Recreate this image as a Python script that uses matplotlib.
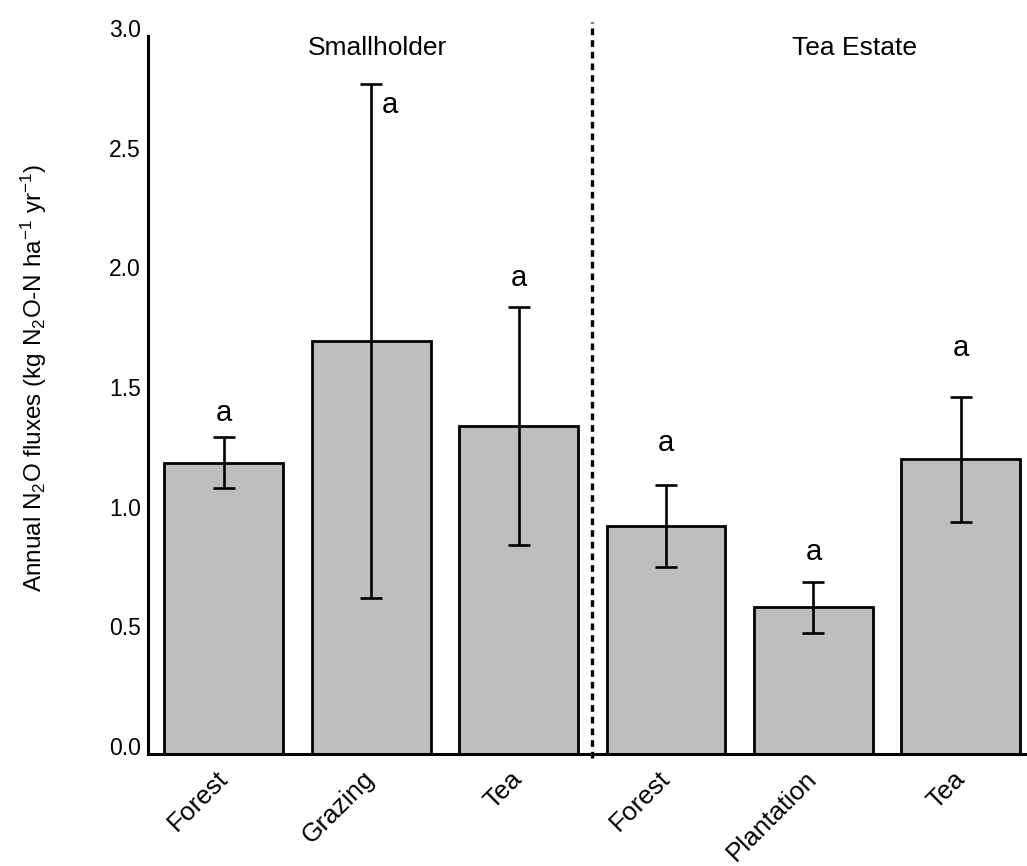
import matplotlib
matplotlib.use("Agg")
import matplotlib.pyplot as plt
from matplotlib.transforms import ScaledTranslation

plt.rcParams['font.family'] = ['Liberation Sans', 'DejaVu Sans']
plt.rcParams['mathtext.fontset'] = 'custom'
plt.rcParams['mathtext.rm'] = 'Liberation Sans'
plt.rcParams['mathtext.it'] = 'Liberation Sans'

categories = ["Forest", "Grazing", "Tea", "Forest", "Plantation", "Tea"]
means = [1.217, 1.725, 1.371, 0.952, 0.613, 1.232]
errors = [0.107, 1.075, 0.498, 0.172, 0.107, 0.261]
letters = ["a", "a", "a", "a", "a", "a"]
letter_y = [1.425, 2.71, 1.99, 1.30, 0.845, 1.695]
letter_dx = [0.0, 0.13, 0.0, 0.0, 0.0, 0.0]
groups = ["Smallholder", "Tea Estate"]
group_x = [1.04, 4.28]
yticks = [0.0, 0.5, 1.0, 1.5, 2.0, 2.5, 3.0]

fig = plt.figure(figsize=(10.27, 8.66), dpi=100)
ax = fig.add_axes([148/1027, (866-754)/866, 1 - 148/1027, (754-36)/866])

x = list(range(len(categories)))
ax.bar(x, means, width=0.807, color="#bebebe", edgecolor="black", linewidth=2.0, zorder=2)
ax.errorbar(x, means, yerr=errors, fmt="none", ecolor="black", elinewidth=1.9,
            capsize=8, capthick=1.9, zorder=3)

for xi, dx, ly, lt in zip(x, letter_dx, letter_y, letters):
    ax.text(xi + dx, ly, lt, ha="center", va="center", fontsize=21)

for gx, g in zip(group_x, groups):
    ax.text(gx, 2.95, g, ha="center", va="center", fontsize=19)

ax.plot([2.5, 2.5], [-0.015, 3.06], linestyle=(0, (2.0, 1.5)), color="black",
        linewidth=2.4, clip_on=False, zorder=4)

ax.set_xlim(-0.514, 5.449)
ax.set_ylim(0, 3.0)
ax.set_yticks(yticks)
ax.set_yticklabels([f"{v:.1f}" for v in yticks], fontsize=16.5)
ax.set_xticks(x)
ax.set_xticklabels(categories, rotation=45, ha="right", va="center",
                   rotation_mode="anchor", fontsize=18.8)
ax.tick_params(axis="both", length=0)
ax.tick_params(axis="y", pad=5)
ax.tick_params(axis="x", pad=15)
for lab in ax.get_yticklabels():
    lab.set_transform(lab.get_transform() + ScaledTranslation(0, 8/100, fig.dpi_scale_trans))

for s in ["top", "right"]:
    ax.spines[s].set_visible(False)
ax.spines["left"].set_linewidth(2.2)
ax.spines["bottom"].set_linewidth(2.2)

ax.set_ylabel(r"Annual N$_\mathrm{2}$O fluxes (kg N$_\mathrm{2}$O-N ha$^\mathrm{-1}$ yr$^\mathrm{-1}$)",
              fontsize=17.5)
ax.yaxis.set_label_coords(-0.113, 0.524)

fig.savefig("out.png", dpi=100)
